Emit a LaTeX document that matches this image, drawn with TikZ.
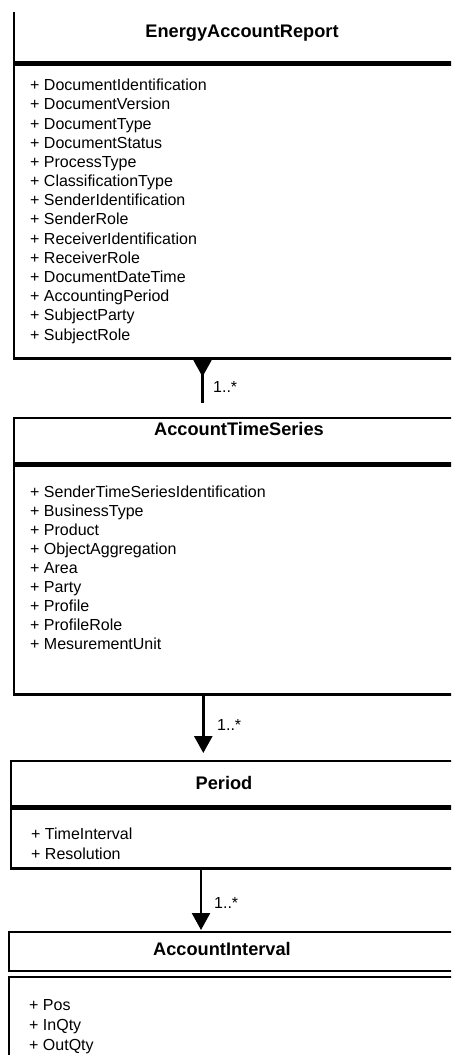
\documentclass[tikz,border=0pt]{standalone}
\usepackage{fontspec}
\setmainfont{Liberation Sans}
\usetikzlibrary{arrows.meta,positioning}

\begin{document}
\begin{tikzpicture}[
  x=1pt,
  y=-1pt,
  headbox/.style={draw, line width=2.4pt, anchor=north west, minimum width=500pt, inner sep=0pt},
  bodybox/.style={draw, line width=2.4pt, anchor=north west, minimum width=500pt, inner sep=0pt},
  classname/.style={font=\fontsize{18.2}{22}\selectfont\bfseries, anchor=base, inner sep=0pt},
  attr/.style={font=\fontsize{16}{19}\selectfont, anchor=base west, inner sep=0pt},
  mult/.style={font=\fontsize{16}{19}\selectfont, anchor=base west, inner sep=0pt},
  assoc/.style={line width=2.6pt, -{Triangle[length=17pt,width=18pt]}},
  backassoc/.style={line width=2.6pt, {Triangle[reversed,length=17pt,width=18pt]}-}
]
  \useasboundingbox (0,0) rectangle (451,1055);
  \clip (0,12) rectangle (451,1055);

  % EnergyAccountReport
  \node[headbox, minimum height=61pt] (earhead) at (13,0) {};
  \node[bodybox, minimum height=294pt] (earbody) at (earhead.south west) {};
  \node[classname] (eartitle) at (242,37.3) {EnergyAccountReport};
  \foreach \a [count=\i] in {DocumentIdentification, DocumentVersion, DocumentType,
      DocumentStatus, ProcessType, ClassificationType, SenderIdentification, SenderRole,
      ReceiverIdentification, ReceiverRole, DocumentDateTime, AccountingPeriod,
      SubjectParty, SubjectRole}
    \node[attr] (ear-\i) at (30,{90.7+19.18*(\i-1)}) {+ \a};

  % AccountTimeSeries
  \node[headbox, minimum height=45pt] (atshead) at (13,417) {};
  \node[bodybox, minimum height=229pt] (atsbody) at (atshead.south west) {};
  \node[classname] (atstitle) at (239,435.7) {AccountTimeSeries};
  \foreach \a [count=\i] in {SenderTimeSeriesIdentification, BusinessType, Product,
      ObjectAggregation, Area, Party, Profile, ProfileRole, MesurementUnit}
    \node[attr] (ats-\i) at (30,{497+19*(\i-1)}) {+ \a};

  % Period
  \node[headbox, minimum height=45pt] (perhead) at (10,760) {};
  \node[bodybox, minimum height=60pt] (perbody) at (perhead.south west) {};
  \node[classname] (pertitle) at (224,789) {Period};
  \foreach \a [count=\i] in {TimeInterval, Resolution}
    \node[attr] (per-\i) at (31,{839+20.5*(\i-1)}) {+ \a};

  % AccountInterval
  \node[headbox, line width=1.8pt, minimum height=39pt] (aihead) at (8,931) {};
  \node[bodybox, line width=1.8pt, minimum height=200pt] (aibody) at (8,976) {};
  \node[classname] (aititle) at (222,955) {AccountInterval};
  \foreach \a [count=\i] in {Pos, InQty, OutQty}
    \node[attr] (ai-\i) at (29,{1010.7+20*(\i-1)}) {+ \a};

  % associations
  \coordinate (c1) at (202.5,0);
  \coordinate (c2) at (203.3,0);
  \coordinate (c3) at (201,0);
  \draw[backassoc, shorten >=14pt] (earbody.south -| c1) -- (atshead.north -| c1);
  \draw[assoc, shorten >=7pt] (atsbody.south -| c2) -- (perhead.north -| c2);
  \draw[assoc, shorten >=1pt] (perbody.south -| c3) -- (aihead.north -| c3);
  \node[mult] (m1) at (213,392.7) {1..*};
  \node[mult] (m2) at (217,730.7) {1..*};
  \node[mult] (m3) at (214,908.3) {1..*};
\end{tikzpicture}
\end{document}
